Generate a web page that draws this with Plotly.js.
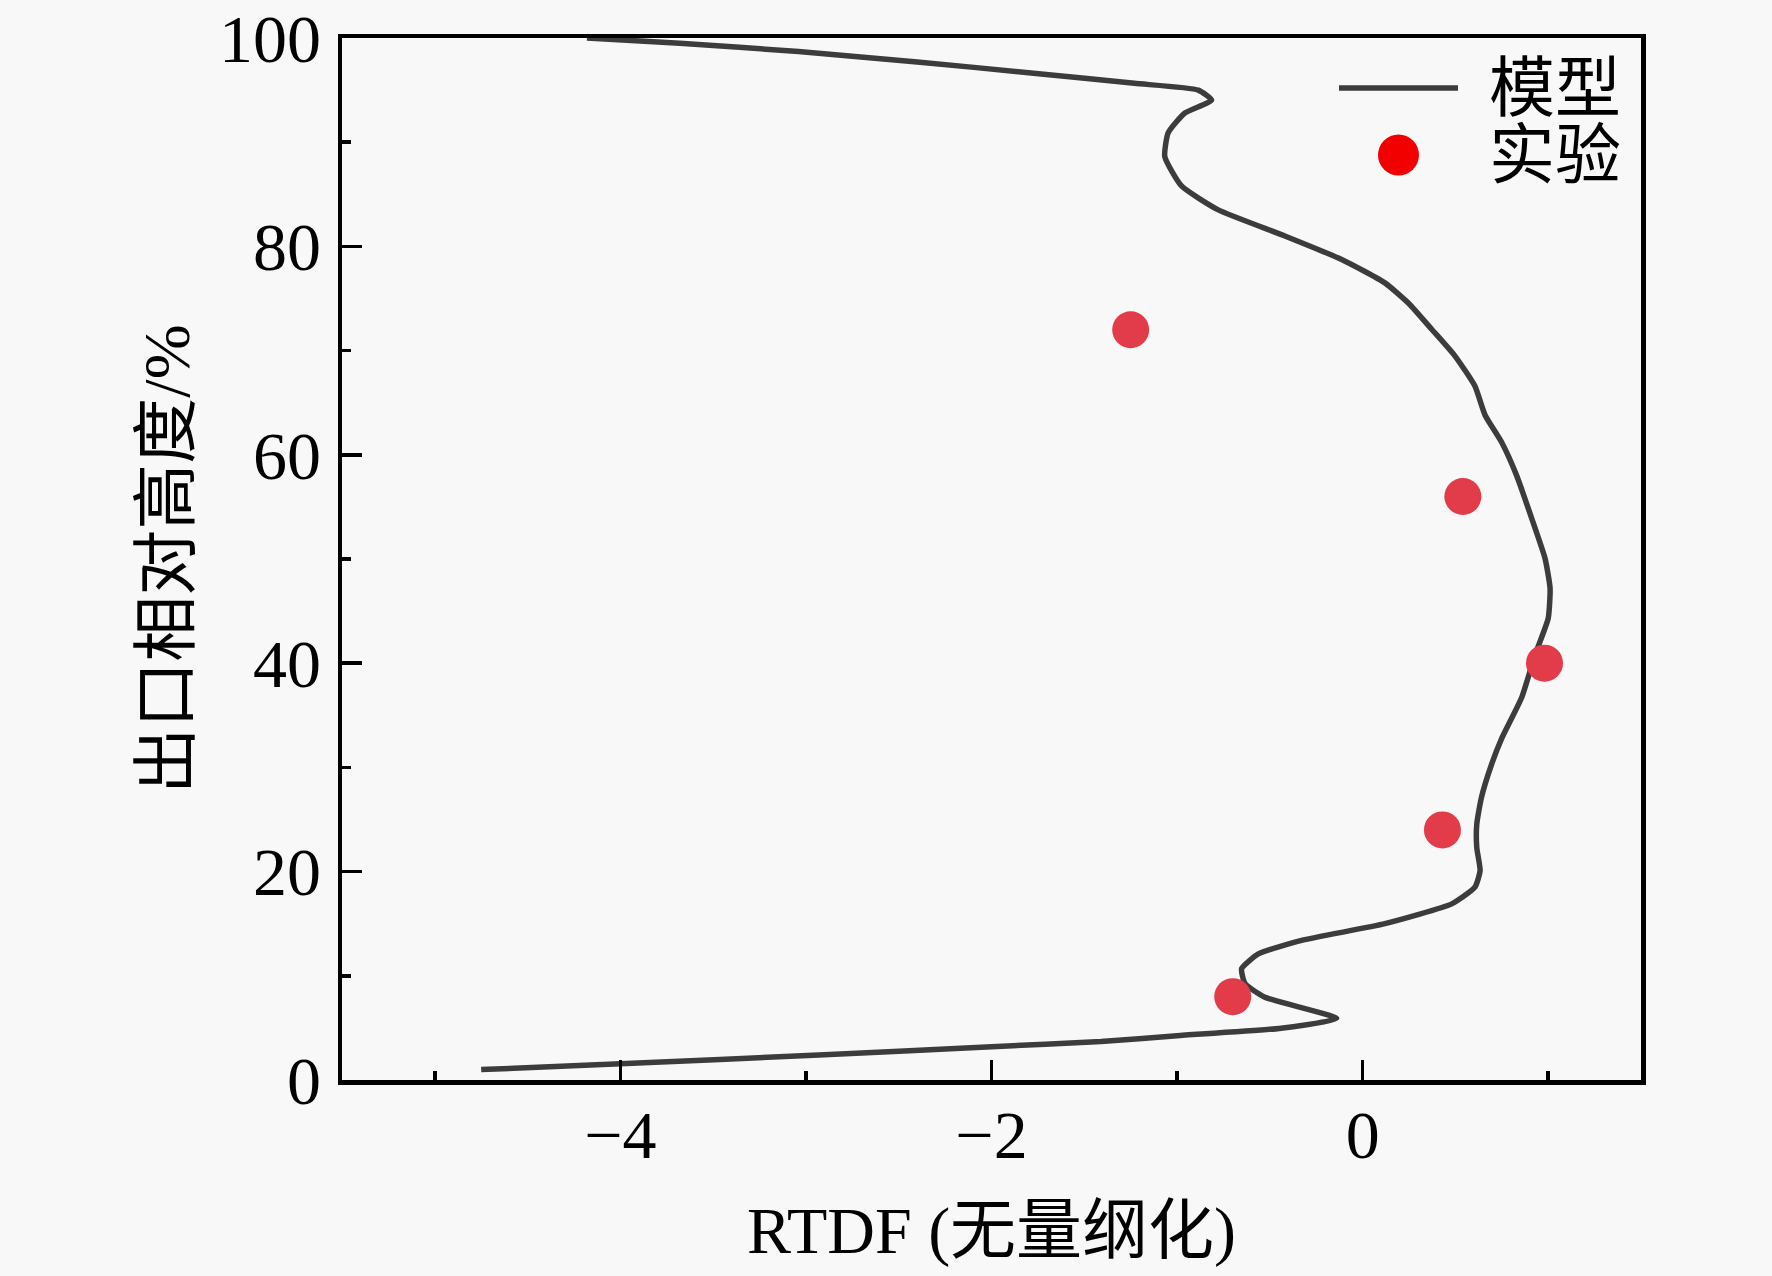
<!DOCTYPE html>
<html>
<head>
<meta charset="utf-8">
<script src="https://cdn.plot.ly/plotly-3.0.1.min.js"></script>
<style>
html, body { margin: 0; padding: 0; background: #f8f8f8; }
#chart { width: 1772px; height: 1276px; }
</style>
</head>
<body>
<div id="chart"></div>
<script>
// Model curve (RTDF, relative height %)
var modelX = [-4.75, -4.00, -2.93, -2.00, -1.41, -1.00, -0.45, -0.14, -0.53, -0.634, -0.652, -0.562, -0.329, 0.12, 0.48, 0.605, 0.633, 0.615, 0.615, 0.64, 0.695, 0.75, 0.857, 0.929, 1.0, 1.01, 0.983, 0.911, 0.83, 0.749, 0.66, 0.605, 0.497, 0.372, 0.25, 0.12, -0.113, -0.419, -0.778, -0.976, -1.066, -1.048, -0.958, -0.814, -0.886, -1.23, -1.76, -2.40, -3.04, -3.68, -4.18];
var modelY = [1.0, 1.55, 2.4, 3.2, 3.7, 4.25, 4.95, 5.9, 7.97, 9.25, 10.68, 12.1, 13.4, 15.0, 16.9, 18.5, 20.1, 22.3, 24.55, 27.1, 30.3, 32.8, 36.7, 40.8, 44.3, 47.2, 50.05, 53.9, 58.0, 61.2, 63.8, 66.6, 69.5, 72.05, 74.5, 76.5, 78.75, 81.0, 83.5, 85.8, 88.6, 90.9, 92.8, 94.05, 95.0, 95.65, 96.6, 97.7, 98.7, 99.5, 100.0];

// Experiment points
var expX = [-1.25, 0.54, 0.98, 0.43, -0.70];
var expY = [72, 56, 40, 24, 8];

// Labels
var seriesNames = ['模型', '实验'];
var xTitle = 'RTDF (无量纲化)';
var yTitle = '出口相对高度/%';

var FONT = "'Liberation Serif', 'Times New Roman', 'Noto Sans CJK SC', serif";

var data = [
  {
    x: modelX, y: modelY, type: 'scatter', mode: 'lines', name: seriesNames[0],
    line: { color: '#3c3c3c', width: 5.5, shape: 'spline', smoothing: 0.5 }
  },
  {
    x: expX, y: expY, type: 'scatter', mode: 'markers', name: seriesNames[1],
    marker: { color: '#e23b4a', size: 37, line: { width: 0 } }
  }
];

var axisCommon = {
  showgrid: false, zeroline: false,
  showline: true, linecolor: '#000', linewidth: 4.5, mirror: true,
  ticks: 'inside', ticklen: 20, tickwidth: 3.5, tickcolor: '#000',
  tickfont: { family: FONT, size: 68, color: '#000' },
  ticklabeloverflow: 'allow',
  automargin: false
};

var layout = {
  width: 1772, height: 1276,
  paper_bgcolor: '#f8f8f8', plot_bgcolor: '#f8f8f8',
  margin: { l: 342, r: 131, t: 38, b: 196 },
  showlegend: true,
  legend: {
    x: 1, xanchor: 'right', y: 1, yanchor: 'top',
    bgcolor: 'rgba(0,0,0,0)', borderwidth: 0,
    font: { family: FONT, size: 66, color: '#000' },
    tracegroupgap: 0, itemwidth: 180
  },
  xaxis: Object.assign({}, axisCommon, {
    range: [-5.5, 1.5], tick0: 0, dtick: 2,
    ticklabelstandoff: -8,
    minor: { ticks: 'inside', ticklen: 9, tickwidth: 3.5, tickcolor: '#000', dtick: 1, tick0: 0 },
    title: { text: xTitle, font: { family: FONT, size: 66, color: '#000' }, standoff: 36 }
  }),
  yaxis: Object.assign({}, axisCommon, {
    range: [0, 100], tick0: 0, dtick: 20,
    ticklabelstandoff: 3,
    minor: { ticks: 'inside', ticklen: 9, tickwidth: 3.5, tickcolor: '#000', dtick: 10, tick0: 0 },
    title: { text: yTitle, font: { family: FONT, size: 66, color: '#000' }, standoff: 9 }
  })
};

var gd = document.getElementById('chart');
Plotly.newPlot(gd, data, layout, { staticPlot: true, displayModeBar: false }).then(function () {
  try {
    gd.querySelectorAll('.legend [clip-path]').forEach(function (el) { el.removeAttribute('clip-path'); });
    var items = gd.querySelectorAll('.legend .traces');
    var targets = [
      { textLeft: 1489, cy: 88 },
      { textLeft: 1489, cy: 155 }
    ];
    items.forEach(function (g, i) {
      var tg = targets[i]; if (!tg) return;
      var t = g.querySelector('text.legendtext');
      var r = t.getBoundingClientRect();
      var tr = g.getAttribute('transform') || '';
      var m = /translate\(\s*([-\d.e]+)[ ,]+([-\d.e]+)\s*\)/.exec(tr);
      var a = m ? parseFloat(m[1]) : 0, b = m ? parseFloat(m[2]) : 0;
      var dx = tg.textLeft - r.left, dy = tg.cy - (r.top + r.height / 2);
      g.setAttribute('transform', 'translate(' + (a + dx) + ',' + (b + dy) + ')');
      var ctm = g.getScreenCTM();
      var lp = g.querySelector('.legendlines path');
      if (lp) {
        lp.setAttribute('d', 'M' + (1339 - ctm.e) + ',' + (88 - ctm.f) + 'H' + (1458 - ctm.e));
        lp.style.strokeWidth = '5.5px';
      }
      var pp = g.querySelector('.legendpoints path.scatterpts');
      if (pp) {
        var bb = pp.getBBox();
        var s = 41 / (bb.width || 16);
        pp.setAttribute('transform', 'translate(' + (1398.5 - ctm.e) + ',' + (155 - ctm.f) + ') scale(' + s + ')');
        pp.style.fill = '#f20000';
      }
    });
  } catch (e) { console.log(e); }
});
</script>
</body>
</html>
